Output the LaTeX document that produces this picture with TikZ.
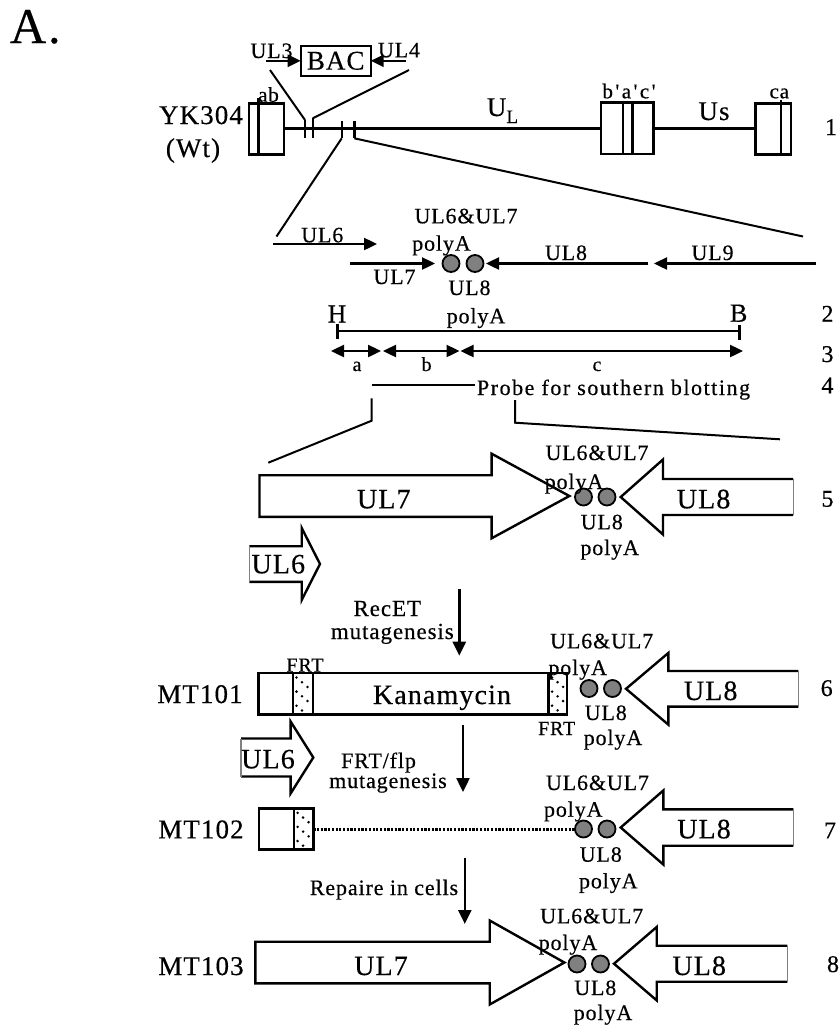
\documentclass[tikz,border=0pt]{standalone}
\usepackage{fontspec}
\setmainfont{Liberation Serif}
\newfontfamily\pf{Liberation Serif}[LetterSpace=4,FakeBold=0.4]
\usetikzlibrary{arrows.meta}
\newcommand\fs[1]{\fontsize{#1}{#1}\selectfont}
\definecolor{cgray}{RGB}{128,128,128}
% right-pointing block arrow, black outline: left, base, tip, cy, shaft half, head half
\newcommand\rarr[6]{\draw[ln] (#1,{#4-#5}) -- (#2,{#4-#5}) -- (#2,{#4-#6}) -- (#3,#4) -- (#2,{#4+#6}) -- (#2,{#4+#5}) -- (#1,{#4+#5}) -- cycle;}
% right-pointing, light left edge
\newcommand\rarrg[6]{\draw[ln] (#1,{#4-#5}) -- (#2,{#4-#5}) -- (#2,{#4-#6}) -- (#3,#4) -- (#2,{#4+#6}) -- (#2,{#4+#5}) -- (#1,{#4+#5});
 \draw[line width=1.2pt,gray] (#1,{#4-#5}) -- (#1,{#4+#5});}
% left-pointing, light right edge: right, base, tip, cy, shaft half, head half
\newcommand\larrg[6]{\draw[ln] (#1,{#4-#5}) -- (#2,{#4-#5}) -- (#2,{#4-#6}) -- (#3,#4) -- (#2,{#4+#6}) -- (#2,{#4+#5}) -- (#1,{#4+#5});
 \draw[line width=1.2pt,gray] (#1,{#4-#5}) -- (#1,{#4+#5});}
% stipple dots
\newcommand\stip[2]{\foreach \r in {0,...,7} {\fill ({#1+3.8+5.5*mod(\r,3)},{#2+4.5+4.7*\r}) circle[radius=1.4pt];}}
\begin{document}
\begin{tikzpicture}[x=1pt,y=-1pt,
 every node/.style={inner sep=0pt,outer sep=0pt,anchor=base},
 ln/.style={line width=2.4pt},
 thn/.style={line width=2pt},
 tip/.style={-{Triangle[length=13pt,width=12pt]}},
 dtip/.style={{Triangle[length=13pt,width=12pt]}-{Triangle[length=13pt,width=12pt]}},
 ptip/.style={-{Triangle[length=14pt,width=13pt]}},
 cdot/.style={line width=1.8pt,draw=black,fill=cgray},
 fA/.style={font={\pf\fs{50}}},
 fL/.style={font={\pf\fs{27}}},
 fB/.style={font={\pf\fs{28}}},
 fS/.style={font={\pf\fs{22}}},
 fT/.style={font={\pf\fs{20}}},
 fN/.style={font={\pf\fs{24}}},
 fH/.style={font={\pf\fs{26}}}]
\fill[white] (0,0) rectangle (839,1031);
\useasboundingbox (0,0) rectangle (839,1031);

% ---------- header ----------
\node[fA,anchor=base west] (lblA) at (10,43) {A.};
\node[fS] (ul3) at (271.5,58) {UL3};
\node[draw,line width=2pt,minimum width=70pt,minimum height=30pt,anchor=center,fL] (bac) at (335.7,60.8) {BAC};
\node[fS] (ul4) at (399,57.3) {UL4};
\coordinate (ul3s) at (266,60.8);
\coordinate (ul4s) at (406,60.8);
\draw[ln,tip] (ul3s) -- (bac.west);
\draw[ln,tip] (ul4s) -- (bac.east);
\draw[thn] (270,70) -- (305,120);
\draw[thn] (409,70) -- (312.7,118.3);

\node[fL] (yk) at (201,124) {YK304};
\node[fL] (wt) at (193,157) {(Wt)};
\draw[ln] (249,103.3) rectangle (284,154.3);
\draw[ln] (258.3,98.3) -- (258.3,154.3);
\node[font={\pf\fs{21}}] (ab) at (268.5,101.7) {ab};
\draw[ln] (284,128.3) -- (601,128.3);
\draw[ln] (653.3,128.3) -- (755.3,128.3);
\foreach \x/\t in {305/120,312.7/118.3,341.7/121,354.3/121} \draw[ln] (\x,\t) -- (\x,138.3);
\node[fL] (UL) at (502.5,116) {U\raisebox{-7pt}{\fs{19}L}};
\draw[ln] (601,102.3) rectangle (653.3,154);
\draw[ln] (622.7,102.3) -- (622.7,154);
\draw[ln] (632.3,102.3) -- (632.3,154);
\node[font={\pf\fs{21}\addfontfeature{LetterSpace=12}}] (bpacp) at (629,98.3) {b'a'c'};
\node[fL] (us) at (714,120) {Us};
\draw[ln] (755.3,103.3) rectangle (790.7,154.3);
\draw[ln] (781,100) -- (781,154.3);
\node[font={\pf\fs{21}}] (ca) at (779.3,98.3) {ca};
\node[fN] (n1) at (831,135) {1};
\draw[thn] (341.7,138.3) -- (276.5,236.5);
\draw[thn] (354.3,138.3) -- (803,236.5);

% ---------- gene row ----------
\draw[ln,tip] (273.3,244) -- (377,244);
\node[fS] (g6) at (322.3,242.3) {UL6};
\draw[ln,tip] (350,263.5) -- (435,263.5);
\node[fS] (g7) at (394.5,284) {UL7};
\draw[cdot] (451,263.5) circle[radius=8.5pt];
\draw[cdot] (475,263.5) circle[radius=8.5pt];
\draw[ln,tip] (648.3,263.5) -- (486,263.5);
\draw[ln,tip] (816,263.5) -- (654,263.5);
\node[fS] (g8) at (566,260) {UL8};
\node[fS] (g9) at (712.5,260) {UL9};
\node[fS] (gpa1) at (466,223.3) {UL6\&UL7};
\node[fS] (gpa2) at (441.5,250.7) {polyA};
\node[fS] (gpb1) at (469.5,295) {UL8};
\node[fS] (gpb2) at (476,323.3) {polyA};

% ---------- rows 2-4 ----------
\node[fH] (H) at (337,322.5) {H};
\node[fH] (B) at (738.7,321.7) {B};
\draw[ln] (337.3,331) -- (739.3,331);
\draw[ln] (337.3,323.5) -- (337.3,338.5);
\draw[ln] (739.3,325) -- (739.3,340);
\node[fN] (n2) at (827.5,321.7) {2};
\draw[ln,dtip] (331,351) -- (381,351);
\draw[ln,dtip] (383,351) -- (459.5,351);
\draw[ln,dtip] (460.5,351) -- (743,351);
\node[fT] (ta) at (357,371) {a};
\node[fT] (tb) at (426.6,371) {b};
\node[fT] (tc) at (597,371) {c};
\node[fN] (n3) at (827.5,362) {3};
\draw[ln] (371.7,385) -- (475,385);
\node[font={\pf\fs{22}\addfontfeature{LetterSpace=7}},anchor=base west] (probe) at (477,395) {Probe for southern blotting};
\node[fN] (n4) at (827.5,393.3) {4};
\draw[thn] (371.7,398.3) -- (371.7,420.7) -- (268.3,462.7);
\draw[thn] (515,400) -- (515,422.7) -- (780,439.3);

% ---------- row 5 ----------
\rarr{259.5}{491.6}{569.4}{496}{20.8}{42.3}
\node[fB] (r5ul7) at (383.8,508.3) {UL7};
\larrg{793.2}{663}{620.7}{497}{18}{37.5}
\node[fB] (r5ul8) at (703.6,508.3) {UL8};
\draw[cdot] (583.5,497) circle[radius=8.5pt];
\draw[cdot] (607,497) circle[radius=8.5pt];
\node[fS] (r5a) at (597,460) {UL6\&UL7};
\node[fS] (r5b) at (574,489) {polyA};
\node[fS] (r5c) at (601.8,529.3) {UL8};
\node[fS] (r5d) at (609.7,555) {polyA};
\node[fN] (n5) at (827.5,506.7) {5};
\rarrg{249.3}{301.7}{320}{564}{17.8}{36}
\node[fB] (r5ul6) at (278.3,573.3) {UL6};

% RecET
\coordinate (p1a) at (459.3,589.3);
\coordinate (p1b) at (459.3,655.7);
\draw[ln,ptip] (p1a) -- (p1b);
\node[font={\pf\fs{23}}] (rec1) at (387.3,616) {RecET};
\node[font={\pf\fs{23}}] (rec2) at (392.3,639) {mutagenesis};

% ---------- row 6 ----------
\node[fL] (mt101) at (200,703) {MT101};
\draw[ln] (258.3,673) rectangle (566.7,714.3);
\draw[ln] (292.7,673) -- (292.7,714.3);
\draw[ln] (312.7,673) -- (312.7,714.3);
\draw[ln] (548.3,673) -- (548.3,714.3);
\stip{292.7}{673}
\stip{548.3}{673}
\node[fT] (frt1) at (305,671.7) {FRT};
\node[fB] (kan) at (442,704) {Kanamycin};
\node[fT] (frt2) at (556.7,735) {FRT};
\larrg{798.3}{668.3}{626}{688.8}{17.8}{35.8}
\node[fB] (r6ul8) at (710.7,700) {UL8};
\draw[cdot] (589,688.5) circle[radius=8.5pt];
\draw[cdot] (612.5,688.5) circle[radius=8.5pt];
\node[fS] (r6a) at (601.7,648.3) {UL6\&UL7};
\node[fS] (r6b) at (577.7,675) {polyA};
\node[fS] (r6c) at (605.8,720) {UL8};
\node[fS] (r6d) at (613,745) {polyA};
\node[fN] (n6) at (826.7,696) {6};
\rarrg{241}{290.6}{313.3}{757.5}{19}{36}
\node[fB] (r6ul6) at (268,768.3) {UL6};

% FRT/flp
\coordinate (p2a) at (463,725);
\coordinate (p2b) at (463,792);
\draw[ln,ptip] (p2a) -- (p2b);
\node[fS] (flp1) at (378.5,768) {FRT/flp};
\node[fS] (flp2) at (388,788) {mutagenesis};

% ---------- row 7 ----------
\node[fL] (mt102) at (201,838.3) {MT102};
\draw[ln] (259,808.3) rectangle (313.3,849.3);
\draw[ln] (293.8,808.3) -- (293.8,849.3);
\stip{293.8}{808.3}
\draw[line width=3pt,dash pattern=on 2.2pt off 1.5pt] (313.3,829) -- (576,829);
\larrg{793.3}{663.3}{620.7}{827.5}{18.2}{37}
\node[fB] (r7ul8) at (704,838.3) {UL8};
\draw[cdot] (583.5,829) circle[radius=8.5pt];
\draw[cdot] (607,829) circle[radius=8.5pt];
\node[fS] (r7a) at (597.5,790) {UL6\&UL7};
\node[fS] (r7b) at (573.3,816.7) {polyA};
\node[fS] (r7c) at (600.8,861.7) {UL8};
\node[fS] (r7d) at (608.3,888.3) {polyA};
\node[fN] (n7) at (830,838.3) {7};

% Repair
\coordinate (p3a) at (464.8,858.3);
\coordinate (p3b) at (464.8,924);
\draw[ln,ptip] (p3a) -- (p3b);
\node[fS] (rep) at (384,895) {Repaire in cells};

% ---------- row 8 ----------
\node[fL] (mt103) at (201,975) {MT103};
\rarr{255.3}{489.7}{564.4}{962.5}{20.8}{42}
\node[fB] (r8ul7) at (381,975) {UL7};
\larrg{787.3}{656.7}{614}{963.7}{18}{36.7}
\node[fB] (r8ul8) at (699.2,975) {UL8};
\draw[cdot] (577,964) circle[radius=8.5pt];
\draw[cdot] (600.5,964) circle[radius=8.5pt];
\node[fS] (r8a) at (591.7,923.3) {UL6\&UL7};
\node[fS] (r8b) at (568,950) {polyA};
\node[fS] (r8c) at (595.3,995) {UL8};
\node[fS] (r8d) at (603,1020) {polyA};
\node[fN] (n8) at (833,972) {8};
\end{tikzpicture}
\end{document}
